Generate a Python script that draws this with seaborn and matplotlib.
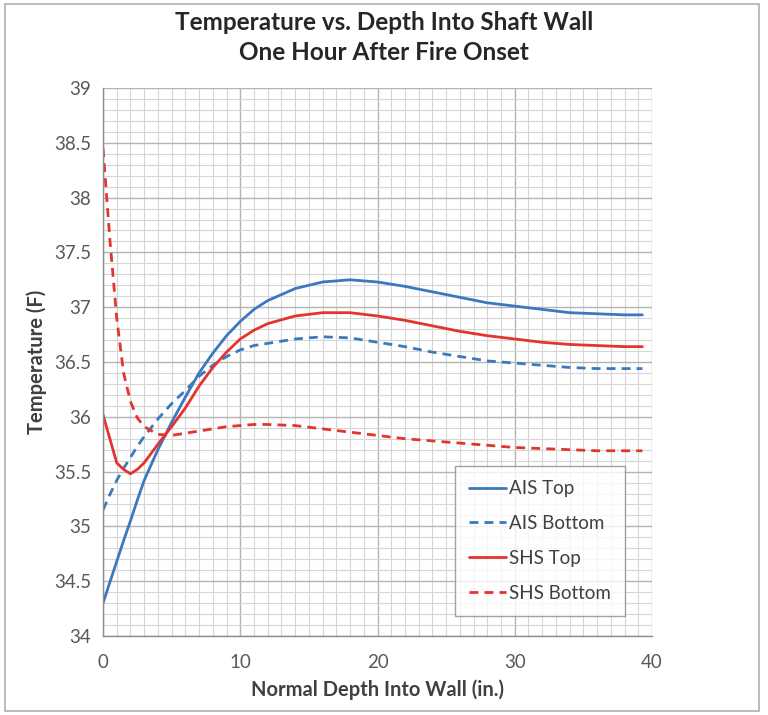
import matplotlib
matplotlib.use("Agg")
import matplotlib.pyplot as plt
from matplotlib.ticker import MultipleLocator
from matplotlib.patches import Rectangle
import seaborn as sns
import pandas as pd

depth = [0, 0.5, 1, 1.5, 2, 2.5, 3, 4, 5, 6, 7, 8, 9, 10, 11, 12, 14, 16, 18, 20,
         22, 24, 26, 28, 30, 32, 34, 36, 38, 39.3]

ais_top = [34.30, 34.49, 34.68, 34.87, 35.05, 35.24, 35.42, 35.70, 35.95, 36.18,
           36.40, 36.58, 36.74, 36.87, 36.98, 37.06, 37.17, 37.23, 37.25, 37.23,
           37.19, 37.14, 37.09, 37.04, 37.01, 36.98, 36.95, 36.94, 36.93, 36.93]
ais_bottom = [35.15, 35.29, 35.42, 35.53, 35.63, 35.73, 35.82, 35.98, 36.12, 36.24,
              36.37, 36.47, 36.55, 36.61, 36.65, 36.67, 36.71, 36.73, 36.72, 36.68,
              36.64, 36.59, 36.55, 36.51, 36.49, 36.47, 36.45, 36.44, 36.44, 36.44]
shs_top = [36.02, 35.80, 35.58, 35.52, 35.48, 35.52, 35.58, 35.75, 35.91, 36.08,
           36.28, 36.45, 36.59, 36.71, 36.79, 36.85, 36.92, 36.95, 36.95, 36.92,
           36.88, 36.83, 36.78, 36.74, 36.71, 36.68, 36.66, 36.65, 36.64, 36.64]
shs_bottom = [38.45, 37.62, 36.90, 36.40, 36.14, 35.99, 35.91, 35.84, 35.83, 35.85,
              35.87, 35.89, 35.91, 35.92, 35.93, 35.93, 35.92, 35.89, 35.86, 35.83,
              35.80, 35.78, 35.76, 35.74, 35.72, 35.71, 35.70, 35.69, 35.69, 35.69]

series = ["AIS Top", "AIS Bottom", "SHS Top", "SHS Bottom"]
values = [ais_top, ais_bottom, shs_top, shs_bottom]

df = pd.concat([pd.DataFrame({"depth": depth, "temp": v, "series": s})
                for s, v in zip(series, values)], ignore_index=True)

blue = "#3B78BD"
red = "#E3342F"
palette = {"AIS Top": blue, "AIS Bottom": blue, "SHS Top": red, "SHS Bottom": red}
dashes = {"AIS Top": "", "AIS Bottom": (3.2, 2.2), "SHS Top": "", "SHS Bottom": (3.2, 2.2)}

sns.set_style("white")
plt.rcParams["font.family"] = ["Lato", "DejaVu Sans"]

fig = plt.figure(figsize=(7.68, 7.15), dpi=100)
ax = fig.add_axes([103 / 768, 1 - 636 / 715, 549 / 768, 548 / 715])

# outer chart border
fig.patches.append(Rectangle((0.006, 0.006), 0.982, 0.988, transform=fig.transFigure,
                             fill=False, edgecolor="#b0b0b0", linewidth=1.2))

sns.lineplot(data=df, x="depth", y="temp", hue="series", style="series",
             palette=palette, dashes=dashes, linewidth=2.0, sort=False,
             estimator=None, ax=ax)

ax.set_xlim(0, 40)
ax.set_ylim(34, 39)
ax.xaxis.set_major_locator(MultipleLocator(10))
ax.xaxis.set_minor_locator(MultipleLocator(1))
ax.yaxis.set_minor_locator(MultipleLocator(0.1))
ax.set_yticks([34, 34.5, 35, 35.5, 36, 36.5, 37, 37.5, 38, 38.5, 39])
ax.set_yticklabels(["34", "34.5", "35", "35.5", "36", "36.5", "37", "37.5",
                    "38", "38.5", "39"])

ax.grid(which="major", color="#b4b4b4", linewidth=1.0)
ax.grid(which="minor", color="#d6d6d6", linewidth=0.8)
ax.set_axisbelow(True)

for s in ["top", "right"]:
    ax.spines[s].set_visible(False)
for s in ["left", "bottom"]:
    ax.spines[s].set_color("#8c8c8c")
    ax.spines[s].set_linewidth(1.0)

ax.tick_params(axis="both", which="major", labelsize=13.5, colors="#8c8c8c",
               labelcolor="#595959", length=5, width=1, direction="out")
ax.tick_params(axis="x", which="minor", length=3, colors="#8c8c8c", direction="inout")
ax.tick_params(axis="y", which="minor", length=0)
ax.tick_params(axis="x", which="major", pad=8)

ax.set_xlabel("Normal Depth Into Wall (in.)", fontsize=14.5, fontweight="bold",
              color="#404040", labelpad=6)
ax.set_ylabel("Temperature (F)", fontsize=14.5, fontweight="bold",
              color="#404040", labelpad=5)

fig.suptitle("Temperature vs. Depth Into Shaft Wall\nOne Hour After Fire Onset",
             fontsize=17.5, fontweight="bold", color="#262626", y=0.985,
             linespacing=1.4)

leg = ax.legend(loc="lower right", bbox_to_anchor=(0.951, 0.037), borderaxespad=0,
                fontsize=13.5, frameon=True, fancybox=False, handlelength=2.0,
                handletextpad=0.15, labelspacing=0.95, borderpad=0.75, title=None)
leg.get_frame().set_edgecolor("#8c8c8c")
leg.get_frame().set_linewidth(1.0)
for t in leg.get_texts():
    t.set_color("#404040")

fig.savefig("out.png", dpi=100, facecolor="white")
